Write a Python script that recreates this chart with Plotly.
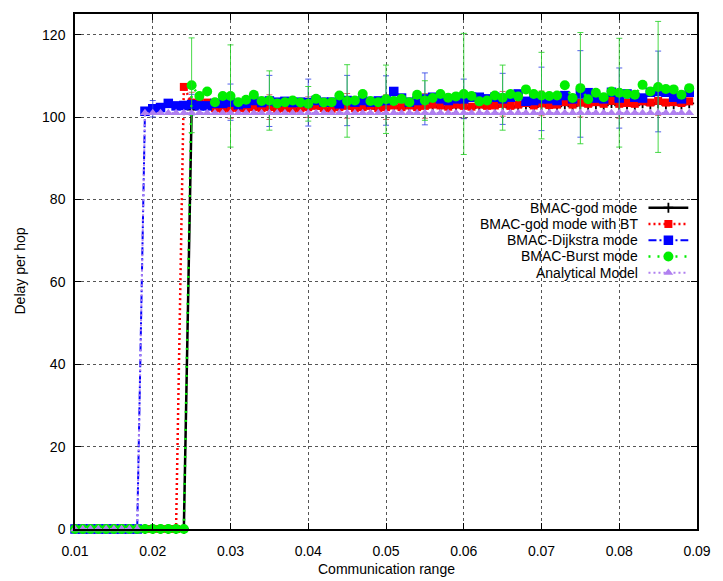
import plotly.graph_objects as go

# ---------------- data ----------------
X = [0.010, 0.011, 0.012, 0.013, 0.014, 0.015, 0.016, 0.017, 0.018, 0.019,
     0.020, 0.021, 0.022, 0.023, 0.024, 0.025, 0.026, 0.027, 0.028, 0.029,
     0.030, 0.031, 0.032, 0.033, 0.034, 0.035, 0.036, 0.037, 0.038, 0.039,
     0.040, 0.041, 0.042, 0.043, 0.044, 0.045, 0.046, 0.047, 0.048, 0.049,
     0.050, 0.051, 0.052, 0.053, 0.054, 0.055, 0.056, 0.057, 0.058, 0.059,
     0.060, 0.061, 0.062, 0.063, 0.064, 0.065, 0.066, 0.067, 0.068, 0.069,
     0.070, 0.071, 0.072, 0.073, 0.074, 0.075, 0.076, 0.077, 0.078, 0.079,
     0.080, 0.081, 0.082, 0.083, 0.084, 0.085, 0.086, 0.087, 0.088, 0.089]

GOD = [0, 0, 0, 0, 0, 0, 0, 0, 0, 0, 0, 0, 0, 0, 0,
       101.8, 102.3, 102.5, 101.9, 101.8, 102.0, 101.9, 101.8, 102.1, 101.9, 102.0, 101.8, 101.9,
       101.8, 102.0, 102.1, 102.3, 101.9, 101.8, 102.1, 102.3, 101.9, 102.1, 102.3, 101.9, 102.1,
       102.4, 102.1, 102.4, 102.1, 102.3, 102.6,
       102.4, 102.2, 102.6, 102.3, 102.2, 102.6, 102.3, 102.4, 102.8, 102.3, 102.6, 103.0, 102.4,
       102.9, 102.5, 102.6, 103.1, 102.6,
       103.0, 102.8, 103.1, 102.8, 103.4, 102.8, 103.0, 102.8, 103.3, 103.0, 103.4, 103.0, 103.1,
       103.0, 103.3]

GOD_BT = [0, 0, 0, 0, 0, 0, 0, 0, 0, 0, 0, 0, 0, 0,
          107.3,
          103.5, 103.6, 103.5, 102.2, 102.0, 102.2, 102.2, 102.0, 102.4, 102.2, 102.4, 102.0, 102.2,
          102.0, 102.2, 102.4, 102.7, 102.2, 102.0, 102.4, 102.7, 102.2, 102.4, 102.7, 102.2, 102.4,
          102.8, 102.4, 102.8, 102.4, 102.7, 103.0,
          102.8, 102.5, 103.0, 102.7, 102.5, 103.0, 102.7, 102.8, 103.2, 102.7, 103.0, 103.4, 102.8,
          103.3, 102.9, 103.0, 103.6, 103.0,
          103.5, 103.2, 103.6, 103.2, 103.9, 103.2, 103.4, 103.2, 103.8, 103.5, 103.9, 103.5, 103.6,
          103.4, 103.8]

DIJKSTRA = [0, 0, 0, 0, 0, 0, 0, 0, 0,
            101.4, 102.0, 102.3, 103.3, 102.7, 102.8, 103.0, 102.7, 102.7, 103.3, 103.3, 103.6, 103.0,
            103.3, 104.0, 103.5, 103.9, 103.6, 103.8,
            103.5, 103.6, 103.5, 104.0, 103.6, 103.6, 103.2, 104.0, 103.6, 104.0, 103.6, 103.9, 104.0,
            106.2, 104.6, 103.6, 104.0, 104.4, 104.8,
            104.4, 104.0, 104.4, 104.4, 104.8, 104.8, 104.4, 104.8, 104.4, 104.8, 105.6, 103.8, 104.0,
            104.4, 104.4, 104.0, 105.2, 104.4,
            105.6, 105.9, 104.6, 104.4, 106.0, 104.6, 105.6, 104.8, 104.6, 106.0, 106.2, 106.0, 104.8,
            104.4, 106.0]

BURST = [0, 0, 0, 0, 0, 0, 0, 0, 0, 0, 0, 0, 0, 0, 0,
         107.7, 105.1, 106.2, 103.6, 105.1, 105.1, 103.6, 104.2, 105.4, 103.9, 104.0, 103.3, 103.6,
         104.0, 103.5, 103.2, 104.4, 103.5, 103.6, 105.2, 103.9, 104.0, 105.6, 103.9, 103.6, 104.3,
         103.9, 104.4, 103.6, 105.4, 104.0, 104.6,
         105.6, 104.7, 105.0, 105.6, 105.1, 103.8, 104.0, 105.2, 104.7, 105.6, 105.0, 106.7, 105.6,
         105.2, 105.1, 105.2, 107.7, 104.6,
         107.0, 104.3, 105.9, 104.8, 106.2, 105.9, 105.6, 105.4, 107.8, 106.2, 107.3, 106.8, 106.7,
         105.4, 107.0]

ANALYTICAL = [0, 0, 0, 0, 0, 0, 0, 0, 0,
              101, 101, 101, 101, 101, 101, 101, 101, 101, 101, 101, 101, 101, 101, 101, 101, 101,
              101, 101, 101, 101, 101, 101, 101, 101, 101, 101, 101, 101, 101, 101, 101, 101, 101,
              101, 101, 101, 101, 101, 101, 101, 101, 101, 101, 101, 101, 101, 101, 101, 101, 101,
              101, 101, 101, 101, 101, 101, 101, 101, 101, 101, 101, 101, 101, 101, 101, 101, 101,
              101, 101, 101]

# error bars (half-widths) at every 5th sample
ERR_X = [0.020, 0.025, 0.030, 0.035, 0.040, 0.045, 0.050, 0.055, 0.060, 0.065, 0.070, 0.075, 0.080, 0.085]
BURST_ERR = [None, 11.5, 12.4, 7.2, 4.2, 8.8, 8.3, 4.8, 14.7, 7.9, 10.5, 13.5, 13.2, 15.9]
DIJKSTRA_ERR = [2.0, 2.5, 4.4, 6.2, 5.7, 6.1, 6.0, 6.3, 4.8, 6.2, 7.7, 10.5, 7.3, 9.8]
GOD_BT_ERR = [None, 2.5, 2.5, 3.0, 2.5, 3.0, 3.0, 3.0, 3.0, 3.0, 3.0, 3.5, 3.5, 3.5]

X_TICKS = [0.01, 0.02, 0.03, 0.04, 0.05, 0.06, 0.07, 0.08, 0.09]
X_TICK_TEXT = ["0.01", "0.02", "0.03", "0.04", "0.05", "0.06", "0.07", "0.08", "0.09"]
Y_TICKS = [0, 20, 40, 60, 80, 100, 120]
NAMES = ["BMAC-god mode", "BMAC-god mode with BT", "BMAC-Dijkstra mode",
         "BMAC-Burst mode", "Analytical Model"]

# ---------------- styles ----------------
FONT = "Liberation Sans, Arial, Helvetica, sans-serif"
STYLES = [
    dict(color="#000000", dash="solid", width=2.5, symbol="cross-thin", size=7, mline=1.8, ecolor=None),
    dict(color="#ff0000", dash="2px,3px", width=2.5, symbol="square", size=8, mline=0, ecolor="rgba(200,40,40,0.7)"),
    dict(color="#0000ff", dash="8px,3px,2px,3px", width=2, symbol="square", size=9.5, mline=0, ecolor="rgba(40,60,230,0.8)"),
    dict(color="#00ee00", dash="2px,7px", width=2.5, symbol="circle", size=10, mline=0, ecolor="rgba(40,210,40,0.85)"),
    dict(color="#b080f0", dash="2px,3px", width=2, symbol="triangle-up", size=8.5, mline=0, ecolor=None),
]
SERIES = [GOD, GOD_BT, DIJKSTRA, BURST, ANALYTICAL]
ERRS = [None, GOD_BT_ERR, DIJKSTRA_ERR, BURST_ERR, None]

fig = go.Figure()

idx = {round(x, 3): i for i, x in enumerate(X)}

for vals, st, err in zip(SERIES, STYLES, ERRS):
    mk = dict(symbol=st["symbol"], size=st["size"], color=st["color"])
    if st["mline"]:
        mk["line"] = dict(color=st["color"], width=st["mline"])
    else:
        mk["line"] = dict(width=0)
    fig.add_trace(go.Scatter(
        x=X, y=vals, mode="lines+markers",
        line=dict(color=st["color"], width=st["width"], dash=st["dash"]),
        marker=mk, cliponaxis=False, showlegend=False, hoverinfo="skip"))
    if err is not None:
        ex, ey, ee = [], [], []
        for xv, e in zip(ERR_X, err):
            if e is None:
                continue
            ex.append(xv)
            ey.append(vals[idx[round(xv, 3)]])
            ee.append(e)
        fig.add_trace(go.Scatter(
            x=ex, y=ey, mode="markers", marker=dict(size=1, opacity=0),
            error_y=dict(type="data", array=ee, visible=True, color=st["ecolor"],
                         thickness=1, width=3),
            cliponaxis=False, showlegend=False, hoverinfo="skip"))

# ---------------- custom legend (text left of sample, like gnuplot) ----------------
LEG_Y = [0.6238, 0.5923, 0.5607, 0.5292, 0.4977]
for name, st, ly in zip(NAMES, STYLES, LEG_Y):
    mk = dict(symbol=st["symbol"], size=st["size"], color=st["color"])
    mk["line"] = dict(color=st["color"], width=st["mline"]) if st["mline"] else dict(width=0)
    fig.add_trace(go.Scatter(
        x=[0.922, 0.954, 0.986], y=[ly, ly, ly], xaxis="x2", yaxis="y2",
        mode="lines", line=dict(color=st["color"], width=st["width"], dash=st["dash"]),
        showlegend=False, hoverinfo="skip", cliponaxis=False))
    fig.add_trace(go.Scatter(
        x=[0.954], y=[ly], xaxis="x2", yaxis="y2", mode="markers", marker=mk,
        showlegend=False, hoverinfo="skip", cliponaxis=False))
    fig.add_annotation(x=0.9077, y=ly, xref="paper", yref="paper", text=name,
                       showarrow=False, xanchor="right", yanchor="middle",
                       font=dict(family=FONT, size=14, color="black"))

# axis titles
fig.add_annotation(x=0.5, y=-0.078, xref="paper", yref="paper", text="Communication range",
                   showarrow=False, xanchor="center", yanchor="middle",
                   font=dict(family=FONT, size=14, color="black"))
fig.add_annotation(x=-0.090, y=0.5, xref="paper", yref="paper", text="Delay per hop",
                   showarrow=False, xanchor="center", yanchor="middle", textangle=-90,
                   font=dict(family=FONT, size=14, color="black"))

axis_common = dict(
    showline=True, linecolor="black", linewidth=1.5, mirror="allticks",
    ticks="inside", ticklen=6, tickwidth=1, tickcolor="black",
    showgrid=True, gridcolor="#555555", griddash="dot", gridwidth=1,
    zeroline=False, tickfont=dict(family=FONT, size=14, color="black"),
)

fig.update_layout(
    width=723, height=581,
    margin=dict(l=75, r=17, t=12, b=52),
    paper_bgcolor="white", plot_bgcolor="white",
    showlegend=False,
    xaxis=dict(range=[0.01, 0.09], tickvals=X_TICKS, ticktext=X_TICK_TEXT,
               ticklabelstandoff=8, **axis_common),
    yaxis=dict(range=[0, 125], tickvals=Y_TICKS, ticklabelstandoff=5, **axis_common),
    xaxis2=dict(range=[0, 1], overlaying="x", anchor="y2", visible=False, fixedrange=True),
    yaxis2=dict(range=[0, 1], overlaying="y", anchor="x2", visible=False, fixedrange=True),
)

fig.write_html("out.html")
